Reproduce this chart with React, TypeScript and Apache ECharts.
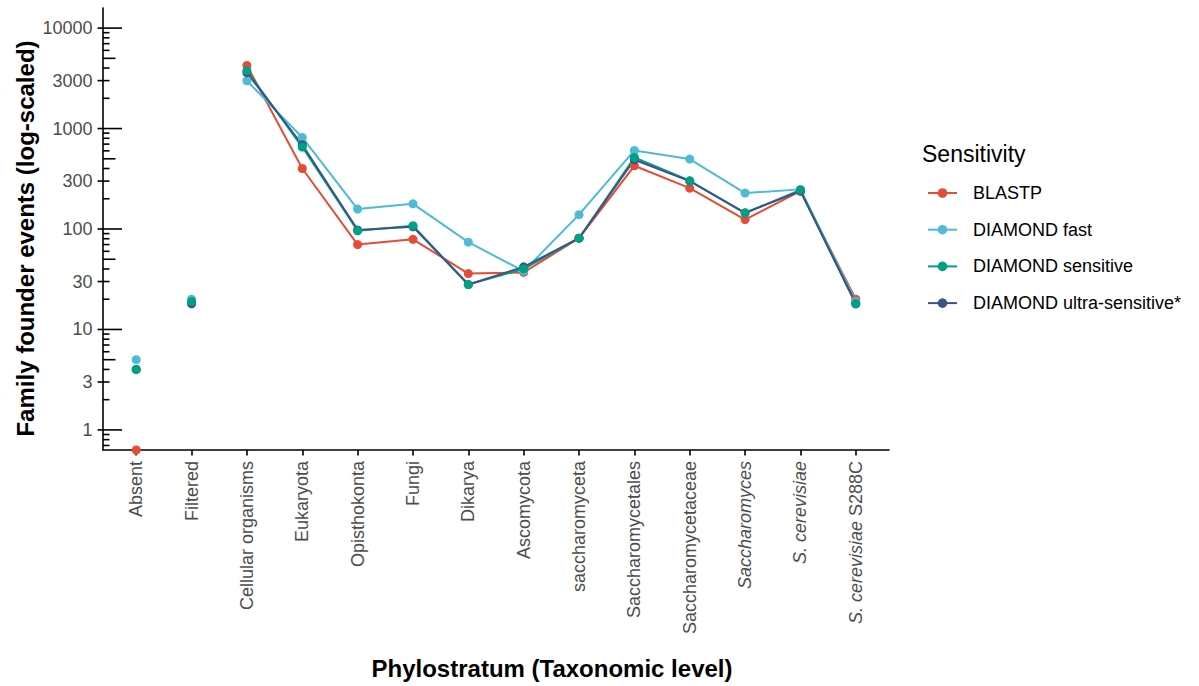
import React, { useEffect, useRef } from 'react';
import * as echarts from 'echarts';

const categories = [
  'Absent', 'Filtered', 'Cellular organisms', 'Eukaryota', 'Opisthokonta', 'Fungi', 'Dikarya',
  'Ascomycota', 'saccharomyceta', 'Saccharomycetales', 'Saccharomycetaceae', 'Saccharomyces',
  'S. cerevisiae', 'S. cerevisiae S288C',
];
// rich-text version of the category labels (italic species / genus names)
const categoryLabels = [
  'Absent', 'Filtered', 'Cellular organisms', 'Eukaryota', 'Opisthokonta', 'Fungi', 'Dikarya',
  'Ascomycota', 'saccharomyceta', 'Saccharomycetales', 'Saccharomycetaceae', '{i|Saccharomyces}',
  '{i|S. cerevisiae}', '{i|S. cerevisiae} S288C',
];

const seriesNames = ['BLASTP', 'DIAMOND fast', 'DIAMOND sensitive', 'DIAMOND ultra-sensitive*'];
const seriesColors = ['#E64B35', '#4DBBD5', '#00A087', '#3C5488'];

// 0 = no event (plotted at -Inf, i.e. the bottom of the panel); null = not present
const blastp = [0, null, 4250, 400, 70, 79, 36, 37, 81, 426, 255, 124, 238, 20];
const diamondFast = [5, 20, 2990, 815, 158, 178, 74, 38, 139, 605, 497, 228, 248, 19];
const diamondSensitive = [4, 19, 3765, 654, 96, 108, 28, 40, 81, 515, 302, 144, 245, 18];
const diamondUltra = [4, 18, 3600, 690, 98, 105, 28, 42, 81, 489, 300, 145, 238, 18];
const allSeries = [blastp, diamondFast, diamondSensitive, diamondUltra];

// first category that is joined by lines
const lineStart = 2;

const yMin = 0.631;
const yMax = 15849;
const yTickValues = [1, 3, 10, 30, 100, 300, 1000, 3000, 10000];
const yTickLabels = ['1', '3', '10', '30', '100', '300', '1000', '3000', '10000'];
const logTickDecades = [0.1, 1, 10, 100, 1000, 10000];
const logTickSteps = [1, 2, 3, 4, 5, 6, 7, 8, 9];

const FONT = '"Liberation Sans", Arial, Helvetica, sans-serif';
const AXIS_TEXT = '#4D4D4D';
const AXIS_LW = 1.6;

export default function App() {
  const ref = useRef<HTMLDivElement>(null);

  useEffect(() => {
    if (!ref.current) return;
    const chart = echarts.init(ref.current, undefined, { renderer: 'svg' });

    const logTicks: number[][] = [];
    logTickDecades.forEach((d) => {
      logTickSteps.forEach((s) => {
        const v = +(d * s).toPrecision(3);
        if (v >= yMin && v <= yMax) {
          const len = s === 1 ? 19 : s === 5 ? 12.5 : 6.5;
          logTicks.push([0, v, len]);
        }
      });
    });

    const lineSeries = seriesNames.map((name, k) => ({
      type: 'line',
      name,
      data: allSeries[k]
        .map((v, i) => [i, v])
        .filter((p) => (p[0] as number) >= lineStart && p[1] !== null),
      symbol: 'circle',
      symbolSize: 9,
      showSymbol: false,
      lineStyle: { width: 2, color: seriesColors[k] },
      itemStyle: { color: seriesColors[k] },
      z: 2 + k * 0.1,
      silent: true,
    }));

    const pointOrder = [0, 1, 3, 2];
    const pointSeries = pointOrder.map((k, j) => ({
      type: 'scatter',
      name: seriesNames[k],
      data: allSeries[k]
        .map((v, i) => [i, v === 0 ? yMin : v])
        .filter((p) => p[1] !== null),
      symbol: 'circle',
      symbolSize: 9,
      itemStyle: { color: seriesColors[k], opacity: 1 },
      z: 3 + j * 0.1,
      clip: false,
      silent: true,
    }));

    const tickSeries = {
      type: 'custom',
      coordinateSystem: 'cartesian2d',
      silent: true,
      clip: false,
      z: 5,
      data: logTicks,
      renderItem: (params: any, api: any) => {
        const cs = params.coordSys;
        const y = api.coord([0, api.value(1)])[1];
        const len = api.value(2);
        return {
          type: 'line',
          shape: { x1: cs.x, y1: y, x2: cs.x + len, y2: y },
          style: { stroke: '#000', lineWidth: AXIS_LW },
        };
      },
    };

    const labelSeries = {
      type: 'custom',
      coordinateSystem: 'cartesian2d',
      silent: true,
      clip: false,
      z: 5,
      data: yTickValues.map((v, i) => [0, v, i]),
      renderItem: (params: any, api: any) => {
        const cs = params.coordSys;
        const y = api.coord([0, api.value(1)])[1];
        const idx = api.value(2);
        return {
          type: 'group',
          children: [
            {
              type: 'line',
              shape: { x1: cs.x - 5.5, y1: y, x2: cs.x, y2: y },
              style: { stroke: '#000', lineWidth: AXIS_LW },
            },
            {
              type: 'text',
              x: cs.x - 10.5,
              y: y,
              style: {
                text: yTickLabels[idx],
                fill: AXIS_TEXT,
                font: `18px ${FONT}`,
                align: 'right',
                verticalAlign: 'middle',
                textAlign: 'right',
                textVerticalAlign: 'middle',
              },
            },
          ],
        };
      },
    };

    const idxs = categories.map((_, i) => i);

    chart.setOption({
      animation: false,
      backgroundColor: '#ffffff',
      grid: { left: 103, top: 8, width: 786, height: 442, containLabel: false },
      xAxis: {
        type: 'value',
        min: -0.6,
        max: 13.6,
        axisLine: { show: true, onZero: false, lineStyle: { color: '#000', width: AXIS_LW } },
        axisTick: {
          show: true,
          customValues: idxs,
          length: 5.5,
          lineStyle: { color: '#000', width: AXIS_LW },
        },
        axisLabel: {
          show: true,
          customValues: idxs,
          rotate: 90,
          margin: 11,
          fontSize: 18,
          fontFamily: FONT,
          color: AXIS_TEXT,
          formatter: (v: number) => categoryLabels[Math.round(v)] ?? '',
          rich: {
            i: { fontStyle: 'italic', fontSize: 18, fontFamily: FONT, color: AXIS_TEXT },
          },
        },
        splitLine: { show: false },
      },
      yAxis: {
        type: 'log',
        logBase: 10,
        min: yMin,
        max: yMax,
        axisLine: { show: true, onZero: false, lineStyle: { color: '#000', width: AXIS_LW } },
        axisTick: { show: false },
        axisLabel: { show: false },
        splitLine: { show: false },
      },
      legend: {
        orient: 'vertical',
        left: 927,
        top: 183,
        padding: 0,
        itemGap: 16.7,
        itemWidth: 29,
        itemHeight: 12,
        data: seriesNames,
        selectedMode: false,
        textStyle: {
          fontSize: 18,
          fontFamily: FONT,
          color: '#000',
          padding: [0, 0, 0, 11],
          lineHeight: 20,
        },
      },
      graphic: [
        {
          type: 'text',
          x: 922,
          y: 153.5,
          style: {
            text: 'Sensitivity',
            font: `23px ${FONT}`,
            fill: '#000',
            align: 'left',
            verticalAlign: 'middle',
            textAlign: 'left',
            textVerticalAlign: 'middle',
          },
        },
        {
          type: 'text',
          x: 552,
          y: 668,
          style: {
            text: 'Phylostratum (Taxonomic level)',
            font: `bold 24px ${FONT}`,
            fill: '#000',
            align: 'center',
            verticalAlign: 'middle',
            textAlign: 'center',
            textVerticalAlign: 'middle',
          },
        },
        {
          type: 'text',
          x: 25,
          y: 238.5,
          rotation: Math.PI / 2,
          style: {
            text: 'Family founder events (log-scaled)',
            font: `bold 24px ${FONT}`,
            fill: '#000',
            align: 'center',
            verticalAlign: 'middle',
            textAlign: 'center',
            textVerticalAlign: 'middle',
          },
        },
      ],
      series: [...lineSeries, ...pointSeries, tickSeries, labelSeries],
    });

    return () => {
      chart.dispose();
    };
  }, []);

  return (
    <div
      ref={ref}
      style={{ position: 'fixed', left: 0, top: 0, width: 1199, height: 686, background: '#fff' }}
    />
  );
}
